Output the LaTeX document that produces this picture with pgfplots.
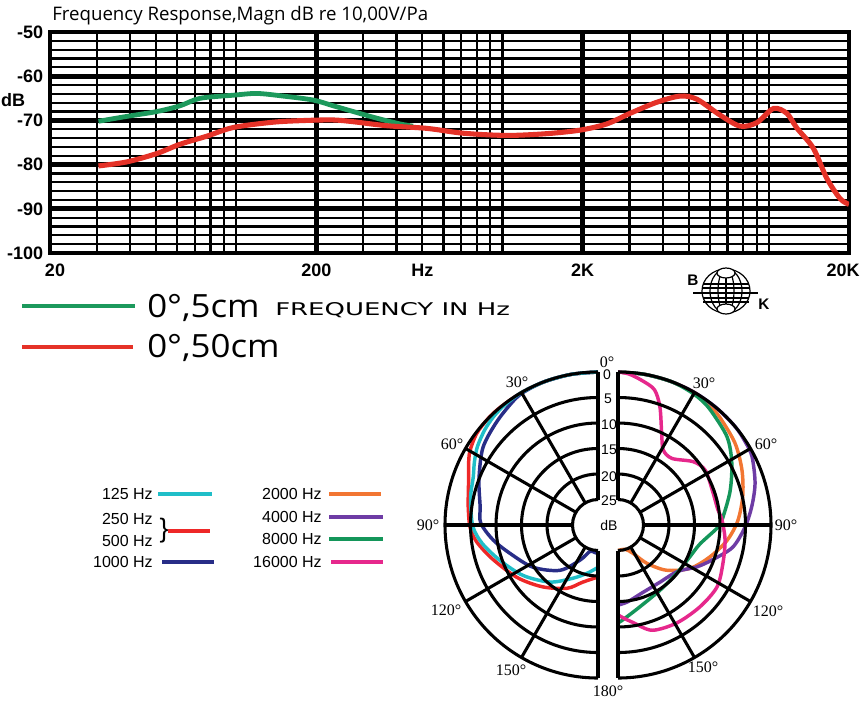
\documentclass[border=0pt]{standalone}
\usepackage{pgfplots}
\pgfplotsset{compat=1.18}
\usepackage{pgfplotstable}
\usepackage{fontspec}
\setmainfont{Open Sans}
\newfontfamily\lsans{Liberation Sans}
\newfontfamily\lserif{Liberation Serif}
\newfontfamily\dejavu{DejaVu Sans}

\definecolor{grnT}{RGB}{28,153,92}
\definecolor{redT}{RGB}{229,50,40}
\definecolor{cyanP}{RGB}{32,190,200}
\definecolor{redP}{RGB}{238,40,40}
\definecolor{navyP}{RGB}{40,45,135}
\definecolor{orangeP}{RGB}{242,118,50}
\definecolor{purpleP}{RGB}{110,60,165}
\definecolor{greenP}{RGB}{20,150,90}
\definecolor{magP}{RGB}{230,40,140}

% frequency response, 0 deg 5 cm
\pgfplotstableread{
f db
30.4 -70.2
38.8 -69.1
50.3 -68.0
61.5 -66.7
73.2 -65.0
97.6 -64.3
119.5 -63.9
150.3 -64.5
194.9 -65.4
231.6 -66.7
275.4 -68.0
337.3 -69.5
412.6 -70.8
461.6 -71.3
}\greendata

% frequency response, 0 deg 50 cm
\pgfplotstableread{
f db
30.4 -80.3
38.8 -79.4
50.3 -77.5
61.5 -75.4
77.3 -73.6
97.6 -71.6
137.9 -70.4
185 -70.0
231.6 -69.9
275.4 -70.3
367.6 -71.2
519.7 -71.8
713 -72.9
1038 -73.4
1466 -73.0
1954 -72.2
2462 -70.8
3013 -68.4
3793 -65.9
4642 -64.5
5363 -65.2
6561 -68.8
7800 -71.3
9013 -70.5
10408 -67.3
11678 -68.4
12730 -71.7
14690 -76.3
16504 -83.1
18520 -87.7
20000 -89.0
}\reddata

% polar data: t = angle from 0 deg, a = attenuation in dB
\pgfplotstableread{
t a
0 0
10 0
20 0
30 0
38 0.2
44 0.5
50 1.0
57 1.8
63 2.8
69 3.8
76 4.3
82 4.8
91 5.5
99 7.0
110 9.6
124 12.3
140 15.4
155 18.5
168 20.4
180 21.7
}\pcyan
\pgfplotstableread{
t a
0 0
10 0
20 0
30 0
40 0
46 0
53 0.2
60 1.0
65 2.0
70 3.0
76 3.8
82 4.3
91 4.9
98 6.0
108 8.3
123 11.1
138 13.7
154 16.2
165 18.4
180 19.8
}\pred
\pgfplotstableread{
t a
0 0
10 0
20 0
27 0.1
33 0.4
44 1.6
56 2.8
69 5.0
81 6.6
89 7.0
98 9.2
108 11.9
123 14.8
140 18.4
153 22.3
163 24.6
172 24.6
180 24.4
}\pnavy
\pgfplotstableread{
t a
0 0
10 0
20 0
30 0
36 0.3
43 0.9
55 2.0
66 3.4
77 4.9
88 6.5
98 8.4
109 10.9
121 13.5
133 17.0
143 20.6
152 23.7
163 25.0
180 25.0
}\porange
\pgfplotstableread{
t a
0 0
10 0
20 0
30 0
40 0
50 0
57 0.2
63 0.5
73 1.9
82 3.5
91 5.1
101 7.1
110 10.2
118 12.5
128 15.2
144 16.1
160 15.9
173 14.8
180 14.3
}\ppurple
\pgfplotstableread{
t a
0 0
10 0
20 0
27 0.2
33 0.5
39 1.1
51 2.5
61 4.5
73 7.0
86 9.4
91 10.3
103 13.5
114 14.6
130 15.1
147 14.8
165 13.4
177 11.4
180 10.8
}\pgreen
\pgfplotstableread{
t a
0 0
4 0.3
9 1.2
15 2.5
19.5 5.4
25.5 10.1
31 12.8
39 13.2
50 10.7
58 9.8
70 10.3
81 10.2
87 9.6
98 8.8
110 8.1
122 7.1
135 7.3
149 7.6
162 8.3
171 10.6
177.5 11.9
180 12.4
}\pmag

\newcommand{\tickfont}{\lsans\bfseries\fontsize{13.5pt}{14pt}\selectfont}

\begin{document}
\begin{tikzpicture}
\path[use as bounding box] (0,0) rectangle (648pt,-528pt);

% ---------- frequency response ----------
\begin{axis}[
  at={(37.5pt,-189.75pt)}, anchor=south west,
  scale only axis, width=599.25pt, height=165.75pt,
  xmode=log, xmin=20, xmax=20000, ymin=-100, ymax=-50,
  xtick={20,200,2000,20000},
  xticklabels={\kern7.5pt 20, 200, 2K, 20K\kern9pt},
  extra x ticks={500}, extra x tick labels={Hz},
  extra x tick style={grid=none},
  minor xtick={30,40,50,60,70,80,90,100,300,400,500,600,700,800,900,1000,3000,4000,5000,6000,7000,8000,9000,10000},
  ytick={-100,-90,-80,-70,-60,-50},
  yticklabels={-100,-90,-80,-70,-60,-50},
  minor ytick={-98,-96,-94,-92,-88,-86,-84,-82,-78,-76,-74,-72,-68,-66,-64,-62,-58,-56,-54,-52},
  grid=both,
  major grid style={black, line width=3.5pt},
  minor grid style={black, line width=1.7pt},
  axis line style={black, line width=3.5pt},
  major tick length=0pt, minor tick length=0pt,
  tick style={draw=none},
  tick label style={font=\tickfont},
  xticklabel style={anchor=north, inner sep=0pt, yshift=-8pt},
  yticklabel style={anchor=east, inner sep=0pt, xshift=-5pt},
]
\addplot[grnT, line width=3.6pt, smooth] table[x=f, y=db]{\greendata};
\addplot[redT, line width=3.8pt, smooth] table[x=f, y=db]{\reddata};
\end{axis}

% ---------- polar curves ----------
\begin{axis}[
  at={(326.1pt,-516.15pt)}, anchor=south west,
  x=3.825pt, y=3.825pt,
  xmin=-32, xmax=36, ymin=-32, ymax=32,
  hide axis, clip=false,
]
\addplot[redP, line width=2.6pt, smooth] table[x expr={-(30-\thisrow{a})*sin(\thisrow{t})}, y expr={(30-\thisrow{a})*cos(\thisrow{t})}]{\pred};
\addplot[navyP, line width=2.6pt, smooth] table[x expr={-(30-\thisrow{a})*sin(\thisrow{t})}, y expr={(30-\thisrow{a})*cos(\thisrow{t})}]{\pnavy};
\addplot[cyanP, line width=2.6pt, smooth] table[x expr={-(30-\thisrow{a})*sin(\thisrow{t})}, y expr={(30-\thisrow{a})*cos(\thisrow{t})}]{\pcyan};
\addplot[orangeP, line width=2.6pt, smooth] table[x expr={3.92+(30-\thisrow{a})*sin(\thisrow{t})}, y expr={(30-\thisrow{a})*cos(\thisrow{t})}]{\porange};
\addplot[purpleP, line width=2.6pt, smooth] table[x expr={3.92+(30-\thisrow{a})*sin(\thisrow{t})}, y expr={(30-\thisrow{a})*cos(\thisrow{t})}]{\ppurple};
\addplot[greenP, line width=2.6pt, smooth] table[x expr={3.92+(30-\thisrow{a})*sin(\thisrow{t})}, y expr={(30-\thisrow{a})*cos(\thisrow{t})}]{\pgreen};
\addplot[magP, line width=2.6pt, smooth] table[x expr={3.92+(30-\thisrow{a})*sin(\thisrow{t})}, y expr={(30-\thisrow{a})*cos(\thisrow{t})}]{\pmag};
\end{axis}

% ---------- polar grid ----------
\begin{scope}[shift={(448.5pt,-393.75pt)}, x=3.825pt, y=3.825pt, line width=2.3pt]
  \foreach \r in {5,10,15,20,25,30} {
    \draw (0,\r) arc[start angle=90, end angle=270, radius=\r];
    \draw (3.92,\r) arc[start angle=90, end angle=-90, radius=\r];
  }
  \draw (0,5)--(0,30); \draw (0,-5)--(0,-30);
  \draw (3.92,5)--(3.92,30); \draw (3.92,-5)--(3.92,-30);
  \foreach \a in {30,60,90,120,150} {
    \draw (90+\a:5)--(90+\a:30);
    \draw ([shift={(3.92,0)}]90-\a:5)--([shift={(3.92,0)}]90-\a:30);
  }
\end{scope}

% ---------- texts & legends (pixel coordinates) ----------
\begin{scope}[x=0.75pt, y=-0.75pt]
  \node[anchor=base west, inner sep=0pt] at (52,20) {\fontsize{14pt}{14pt}\selectfont Frequency Response,Magn dB re 10,00V/Pa};
  \node[inner sep=0pt] at (13,100) {\tickfont dB};

  \draw[grnT, line width=3pt] (22,306)--(135,306);
  \draw[redT, line width=3pt] (22,347)--(133,347);
  \node[anchor=base west, inner sep=0pt] at (147,317) {\scalebox{1.09}[1]{\fontsize{24pt}{24pt}\selectfont 0°,5cm}};
  \node[anchor=base west, inner sep=0pt] at (147,357) {\scalebox{1.09}[1]{\fontsize{24pt}{24pt}\selectfont 0°,50cm}};
  \node[anchor=base west, inner sep=0pt] at (275,315) {\resizebox{176pt}{9.75pt}{\dejavu FREQUENCY IN Hz}};

  % logo
  \begin{scope}[line width=0.9pt]
    \draw (726,291) ellipse [x radius=24, y radius=22];
    \draw (726,291) ellipse [x radius=16, y radius=22];
    \draw (726,291) ellipse [x radius=8, y radius=22];
    \draw (726,269)--(726,313);
    \foreach \yy in {284,288,293,298,302} \draw (703,\yy)--(749,\yy);
    \draw (693,293)--(758,293);
    \draw[fill=white] (726,273) ellipse [x radius=9, y radius=5];
    \draw[fill=white] (726,309) ellipse [x radius=9, y radius=5];
  \end{scope}
  \node[inner sep=0pt] at (693,280) {\lsans\bfseries\fontsize{11.5pt}{12pt}\selectfont B};
  \node[inner sep=0pt] at (764,304) {\lsans\bfseries\fontsize{11.5pt}{12pt}\selectfont K};

  % polar legend
  \begin{scope}[every node/.style={anchor=east, inner sep=0pt, font=\lsans\fontsize{12pt}{12pt}\selectfont}]
    \node at (153,494) {125 Hz};
    \node at (153,519) {250 Hz};
    \node at (153,541) {500 Hz};
    \node at (153,562) {1000 Hz};
    \node at (322,494) {2000 Hz};
    \node at (322,517) {4000 Hz};
    \node at (322,539) {8000 Hz};
    \node at (322,562) {16000 Hz};
  \end{scope}
  \node[inner sep=0pt] at (164,531) {\lsans\fontsize{20pt}{20pt}\selectfont \}};
  \draw[cyanP, line width=3pt] (158,494)--(212,494);
  \draw[redP, line width=3pt] (168,531)--(210,531);
  \draw[navyP, line width=3pt] (162,562)--(214,562);
  \draw[orangeP, line width=3pt] (329,494)--(381,494);
  \draw[purpleP, line width=3pt] (329,517)--(383,517);
  \draw[greenP, line width=3pt] (329,539)--(383,539);
  \draw[magP, line width=3pt] (331,562)--(383,562);

  % polar labels
  \begin{scope}[every node/.style={inner sep=0pt, font=\lserif\fontsize{12pt}{12pt}\selectfont}]
    \node at (607,362) {0°};
    \node at (517,382) {30°};
    \node at (452,444) {60°};
    \node at (428,525) {90°};
    \node at (446,610) {120°};
    \node at (511,670) {150°};
    \node at (608,691) {180°};
    \node at (704,383) {30°};
    \node at (766,444) {60°};
    \node at (786,525) {90°};
    \node at (768,611) {120°};
    \node at (703,667) {150°};
  \end{scope}
  \begin{scope}[every node/.style={inner sep=0pt, font=\lsans\fontsize{10.5pt}{11pt}\selectfont}]
    \node at (607,375) {0};
    \node at (608,399) {5};
    \node at (609,425) {10};
    \node at (609,450) {15};
    \node at (609,477) {20};
    \node at (609,501) {25};
    \node at (609,525) {dB};
  \end{scope}
\end{scope}
\end{tikzpicture}
\end{document}
